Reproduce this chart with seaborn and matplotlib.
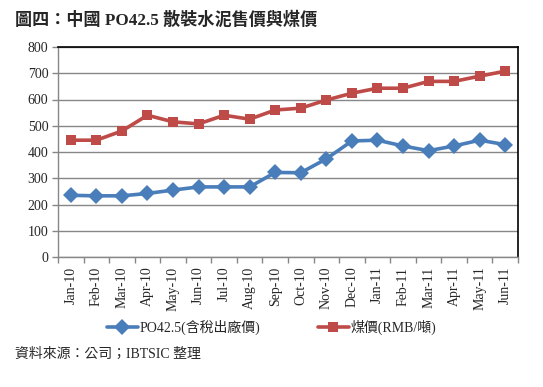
import matplotlib
matplotlib.use("Agg")
import matplotlib.pyplot as plt
import seaborn as sns
import pandas as pd
import numpy as np
from matplotlib.ticker import FixedLocator, MultipleLocator
from matplotlib.lines import Line2D

months = ["Jan-10", "Feb-10", "Mar-10", "Apr-10", "May-10", "Jun-10", "Jul-10", "Aug-10", "Sep-10",
          "Oct-10", "Nov-10", "Dec-10", "Jan-11", "Feb-11", "Mar-11", "Apr-11", "May-11", "Jun-11"]
cement = [235, 233, 233, 242, 255, 267, 267, 267, 322, 321, 374, 442, 445, 423, 405, 423, 445, 428]
coal = [445, 445, 480, 540, 515, 507, 540, 525, 560, 567, 598, 624, 643, 643, 669, 669, 689, 708]
series_names = ["PO42.5(含稅出廠價)", "煤價(RMB/噸)"]
title = "圖四：中國 PO42.5 散裝水泥售價與煤價"
source = "資料來源：公司；IBTSIC 整理"

sns.set_theme(style="white")
FAM = ["Liberation Serif", "Noto Sans CJK TC", "DejaVu Sans"]
plt.rcParams["font.family"] = FAM

df = pd.DataFrame({
    "idx": list(range(len(months))) * 2,
    "value": cement + coal,
    "series": [series_names[0]] * len(months) + [series_names[1]] * len(months),
})

fig = plt.figure(figsize=(5.43, 3.87), dpi=100)
ax = fig.add_axes([58 / 543, 1 - 257 / 387, 460 / 543, 210 / 387])

palette = {series_names[0]: "#4A7EBB", series_names[1]: "#BE4B48"}
markers = {series_names[0]: "D", series_names[1]: "s"}
sns.lineplot(data=df, x="idx", y="value", hue="series", style="series", palette=palette,
             markers=markers, dashes=False, linewidth=2.6, markersize=7.8,
             markeredgewidth=0, ax=ax, legend=False)

ax.set_xlim(-0.5, len(months) - 0.5)
ax.set_ylim(0, 800)
ax.yaxis.set_major_locator(MultipleLocator(100))
ax.grid(axis="y", color="#878787", linewidth=1.0)
ax.set_axisbelow(True)
ax.set_xticks(range(len(months)))
ax.set_xticklabels(months, rotation=90, fontsize=10)
ax.xaxis.set_minor_locator(FixedLocator(np.arange(-0.5, len(months), 1.0)))
ax.tick_params(axis="x", which="major", length=0, pad=7)
ax.tick_params(axis="x", which="minor", length=4, color="#878787", width=1, direction="out", bottom=True)
ax.tick_params(axis="y", length=4, color="#878787", width=1, direction="out", left=True, labelsize=10, pad=3)
ax.set_xlabel("")
ax.set_ylabel("")
for s in ["left", "bottom"]:
    ax.spines[s].set_color("#878787")
    ax.spines[s].set_linewidth(1)
for s in ["top", "right"]:
    ax.spines[s].set_color("black")
    ax.spines[s].set_linewidth(1.2)

handles = [Line2D([], [], color=palette[n], marker=markers[n], linewidth=2.6, markersize=7.8,
                  markeredgewidth=0) for n in series_names]
fig.legend(handles, series_names, loc="center", bbox_to_anchor=(0.5, 1 - 327 / 387), ncol=2,
           frameon=False, handlelength=2.2, handletextpad=0.1, columnspacing=4.2,
           prop={"family": FAM, "size": 10})

fig.text(15 / 543, 1 - 20 / 387, title, fontsize=12.3, fontweight="bold", va="center", ha="left", family=FAM)
fig.text(15 / 543, 1 - 354 / 387, source, fontsize=10, va="center", ha="left", family=FAM)

fig.savefig("out.png", dpi=100)
